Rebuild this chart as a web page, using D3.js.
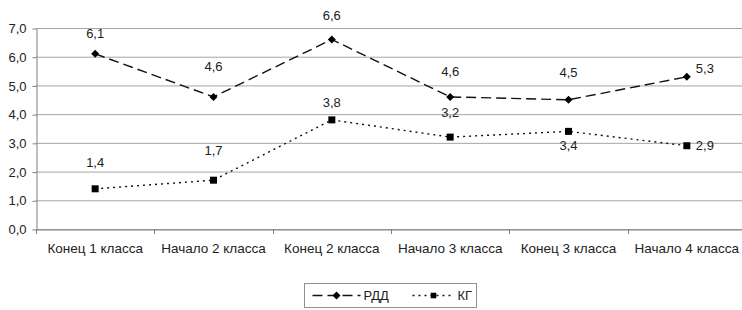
<!DOCTYPE html>
<html>
<head>
<meta charset="utf-8">
<script src="https://cdn.jsdelivr.net/npm/d3@7"></script>
<style>
  body { margin: 0; background: #fff; }
  svg text { font-family: "Liberation Sans", Arial, sans-serif; fill: #222; }
</style>
</head>
<body>
<div id="chart"></div>
<script>
var categories = ["Конец 1 класса", "Начало 2 класса", "Конец 2 класса", "Начало 3 класса", "Конец 3 класса", "Начало 4 класса"];
var rddValues = [6.1, 4.6, 6.6, 4.6, 4.5, 5.3];
var kgValues = [1.4, 1.7, 3.8, 3.2, 3.4, 2.9];
var yTicks = [0, 1, 2, 3, 4, 5, 6, 7];

// where each value label sits relative to its point
var rddLabelPos = [[0, -20], [0, -30], [0, -24], [0, -25], [0, -27], [9, -8]];
var kgLabelPos = [[0, -26], [0, -30], [0, -17], [0, -25], [0, 14], [9, 0]];

var width = 742, height = 310;
var margin = {top: 28, left: 36, bottom: 229};

var svg = d3.select("#chart").append("svg")
  .attr("width", width)
  .attr("height", height);

var x = d3.scaleBand()
  .domain(categories)
  .range([margin.left, 746]);

var y = d3.scaleLinear()
  .domain([0, 7])
  .range([margin.bottom, margin.top]);

var fmt = function (v) { return d3.format(".1f")(v).replace(".", ","); };

// gridlines
svg.append("g")
  .selectAll("line")
  .data(yTicks)
  .enter()
  .append("line")
  .attr("x1", margin.left)
  .attr("x2", 746)
  .attr("y1", function (d) { return y(d) + 0.5; })
  .attr("y2", function (d) { return y(d) + 0.5; })
  .attr("stroke", "#a6a6a6")
  .attr("stroke-width", 1);

// y axis
var yAxis = svg.append("g")
  .attr("transform", "translate(" + (margin.left + 0.5) + ",0.5)")
  .call(d3.axisLeft(y).tickValues(yTicks).tickFormat(fmt).tickSize(4).tickSizeOuter(0));
yAxis.select(".domain").attr("stroke", "#808080");
yAxis.selectAll(".tick line").attr("stroke", "#808080");
yAxis.selectAll(".tick text")
  .attr("x", -10)
  .style("font-size", "13px")
  .style("font-family", "Liberation Sans, Arial, sans-serif")
  .attr("fill", "#222");

// x axis
var xAxis = svg.append("g")
  .attr("transform", "translate(0," + (margin.bottom + 0.5) + ")")
  .call(d3.axisBottom(x).tickSize(0).tickSizeOuter(0));
xAxis.select(".domain").attr("stroke", "#808080");
xAxis.selectAll(".tick text")
  .attr("y", 14)
  .style("font-size", "13.5px")
  .style("font-family", "Liberation Sans, Arial, sans-serif")
  .attr("fill", "#222");

// tick marks between categories
svg.append("g")
  .selectAll("line")
  .data(categories)
  .enter()
  .append("line")
  .attr("x1", function (d) { return Math.round(x(d)) + 0.5; })
  .attr("x2", function (d) { return Math.round(x(d)) + 0.5; })
  .attr("y1", margin.bottom)
  .attr("y2", margin.bottom + 5)
  .attr("stroke", "#808080");

function cx(d, i) { return x(categories[i]) + x.bandwidth() / 2; }

var diamond = d3.symbol().type(d3.symbolSquare).size(32);
var square = d3.symbol().type(d3.symbolSquare).size(49);

function drawSeries(values, dash, symbol, rot, labelPos) {
  var line = d3.line()
    .x(cx)
    .y(function (d) { return y(d); });

  svg.append("path")
    .datum(values)
    .attr("fill", "none")
    .attr("stroke", "#111")
    .attr("stroke-width", 1.4)
    .attr("stroke-dasharray", dash)
    .attr("d", line);

  svg.append("g")
    .selectAll("path")
    .data(values)
    .enter()
    .append("path")
    .attr("d", symbol)
    .attr("fill", "#000")
    .attr("transform", function (d, i) {
      return "translate(" + cx(d, i) + "," + y(d) + ") rotate(" + rot + ")";
    });

  svg.append("g")
    .selectAll("text")
    .data(values)
    .enter()
    .append("text")
    .attr("x", function (d, i) { return cx(d, i) + labelPos[i][0]; })
    .attr("y", function (d, i) { return y(d) + labelPos[i][1]; })
    .attr("dy", "0.35em")
    .attr("text-anchor", function (d, i) { return labelPos[i][0] > 0 ? "start" : "middle"; })
    .style("font-size", "13px")
    .text(fmt);
}

drawSeries(rddValues, "10,5", diamond, 45, rddLabelPos);
drawSeries(kgValues, "2,4", square, 0, kgLabelPos);

// legend
var legend = svg.append("g").attr("transform", "translate(304.5,283.5)");
legend.append("rect")
  .attr("width", 172)
  .attr("height", 24)
  .attr("fill", "#fff")
  .attr("stroke", "#909090");

legend.append("line")
  .attr("x1", 8).attr("x2", 56).attr("y1", 12).attr("y2", 12)
  .attr("stroke", "#111").attr("stroke-width", 1.4).attr("stroke-dasharray", "10,5");
legend.append("path")
  .attr("d", diamond)
  .attr("transform", "translate(32,12) rotate(45)");
legend.append("text")
  .attr("x", 59).attr("y", 12).attr("dy", "0.35em")
  .style("font-size", "13px")
  .text("РДД");

legend.append("line")
  .attr("x1", 108).attr("x2", 150).attr("y1", 12).attr("y2", 12)
  .attr("stroke", "#111").attr("stroke-width", 1.4).attr("stroke-dasharray", "2,4");
legend.append("path")
  .attr("d", square)
  .attr("transform", "translate(129,12) scale(0.8)");
legend.append("text")
  .attr("x", 153).attr("y", 12).attr("dy", "0.35em")
  .style("font-size", "13px")
  .text("КГ");
</script>
</body>
</html>
